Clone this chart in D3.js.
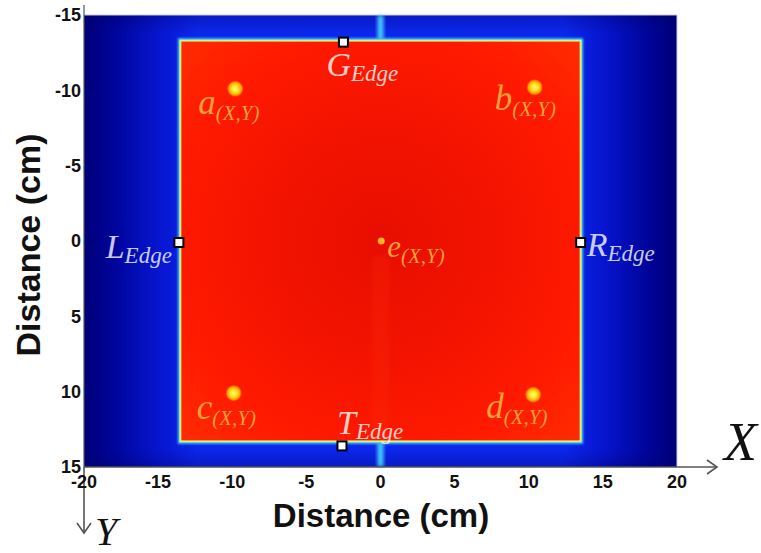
<!DOCTYPE html>
<html><head><meta charset="utf-8">
<script src="https://cdn.jsdelivr.net/npm/d3@7"></script>
<style>html,body{margin:0;padding:0;background:#fff;}svg{display:block;}</style>
</head><body>
<svg id="c" width="761" height="553"></svg>
<script>
const xTicks = [-20,-15,-10,-5,0,5,10,15,20];
const yTicks = [-15,-10,-5,0,5,10,15];
const plateX = [-13.5, 13.5];
const plateY = [-13.3, 13.3];
const sensorNames = ["a","b","c","d","e"];
const sensorX = [-9.8, 10.4, -9.9, 10.3, 0.05];
const sensorY = [-10.1, -10.2, 10.1, 10.2, 0.0];
const edgeNames = ["G","L","R","T"];
const edgeX = [-2.5, -13.6, 13.5, -2.6];
const edgeY = [-13.2, 0.1, 0.1, 13.6];

const svg = d3.select("#c");
const x = d3.scaleLinear().domain([-20,20]).range([84,677]);
const y = d3.scaleLinear().domain([-15,15]).range([15,467]);
const defs = svg.append("defs");

const bg = defs.append("linearGradient").attr("id","bgGrad").attr("x1","0").attr("x2","1").attr("y1","0").attr("y2","0");
[[0,"#000078"],[0.05,"#00049a"],[0.12,"#0614cc"],[0.19,"#0c26ec"],[0.81,"#0c26ec"],[0.88,"#0614cc"],[0.95,"#00049a"],[1,"#000078"]]
  .forEach(s=>bg.append("stop").attr("offset",s[0]).attr("stop-color",s[1]));
const vg = defs.append("linearGradient").attr("id","vGrad").attr("x1","0").attr("x2","0").attr("y1","0").attr("y2","1");
[[0,"#000060",0.3],[0.04,"#000060",0],[0.96,"#000060",0],[1,"#000060",0.3]]
  .forEach(s=>vg.append("stop").attr("offset",s[0]).attr("stop-color",s[1]).attr("stop-opacity",s[2]));
const rg = defs.append("radialGradient").attr("id","redGrad").attr("cx","0.5").attr("cy","0.5").attr("r","0.7");
[[0,"#e80e00"],[0.45,"#f41400"],[0.75,"#ff1a00"],[1,"#ff2c00"]]
  .forEach(s=>rg.append("stop").attr("offset",s[0]).attr("stop-color",s[1]));
const sg = defs.append("radialGradient").attr("id","spotGrad");
[[0,"#ffff70",1],[0.45,"#ffe020",1],[0.8,"#ffa800",0.95],[1,"#ff7000",0.4]]
  .forEach(s=>sg.append("stop").attr("offset",s[0]).attr("stop-color",s[1]).attr("stop-opacity",s[2]));
defs.append("filter").attr("id","blur").attr("x","-50%").attr("y","-50%").attr("width","200%").attr("height","200%")
  .append("feGaussianBlur").attr("stdDeviation",2.2);
defs.append("filter").attr("id","blur1").attr("x","-20%").attr("y","-20%").attr("width","140%").attr("height","140%")
  .append("feGaussianBlur").attr("stdDeviation",1.2);

// background field
svg.append("rect").attr("x",x(-20)).attr("y",y(-15)).attr("width",x(20)-x(-20)).attr("height",y(15)-y(-15)).attr("fill","url(#bgGrad)");
svg.append("rect").attr("x",x(-20)).attr("y",y(-15)).attr("width",x(20)-x(-20)).attr("height",y(15)-y(-15)).attr("fill","url(#vGrad)");
// vertical streak at x=0
svg.append("rect").attr("x",x(0)-2.5).attr("y",y(-15)).attr("width",5).attr("height",y(plateY[0])-y(-15)).attr("fill","#50f0ff").attr("filter","url(#blur)");
svg.append("rect").attr("x",x(0)-2.5).attr("y",y(plateY[1])).attr("width",5).attr("height",y(15)-y(plateY[1])).attr("fill","#50f0ff").attr("filter","url(#blur)");
// plate halo
svg.append("rect").attr("x",x(plateX[0])).attr("y",y(plateY[0])).attr("width",x(plateX[1])-x(plateX[0])).attr("height",y(plateY[1])-y(plateY[0]))
  .attr("fill","none").attr("stroke","#30c8ff").attr("stroke-width",5).attr("filter","url(#blur1)");
svg.append("rect").attr("x",x(plateX[0])).attr("y",y(plateY[0])).attr("width",x(plateX[1])-x(plateX[0])).attr("height",y(plateY[1])-y(plateY[0]))
  .attr("fill","url(#redGrad)").attr("stroke","#d8f080").attr("stroke-width",2);
// faint lighter streak in red
svg.append("rect").attr("x",x(-0.6)).attr("y",y(1)).attr("width",x(0.6)-x(-0.6)).attr("height",y(13)-y(1)).attr("fill","#ff3010").attr("opacity",0.2).attr("filter","url(#blur)");

// frame lines
svg.append("line").attr("x1",x(-20)).attr("x2",x(20)).attr("y1",y(-15)).attr("y2",y(-15)).attr("stroke","#c8c8d8").attr("stroke-width",1);
svg.append("line").attr("x1",x(20)).attr("x2",x(20)).attr("y1",y(-15)).attr("y2",y(15)).attr("stroke","#d0d0e0").attr("stroke-width",1);
svg.append("line").attr("x1",x(-20)).attr("x2",x(-20)).attr("y1",y(-15)-10).attr("y2",y(15)).attr("stroke","#555").attr("stroke-width",1.2);

// sensors
const sens = sensorNames.map((n,i)=>({n, x:sensorX[i], y:sensorY[i]}));
svg.selectAll("circle.s").data(sens).enter().append("circle").attr("class","s")
  .attr("cx",d=>x(d.x)).attr("cy",d=>y(d.y)).attr("r",d=>d.n==="e"?3.5:8)
  .attr("fill",d=>d.n==="e"?"#ffb428":"url(#spotGrad)");
const sOff = {a:[-37,25,35], b:[-40,23,35], c:[-37,26,35], d:[-47,23,35], e:[6,16,31]};
const sl = svg.selectAll("text.s").data(sens).enter().append("text").attr("class","s")
  .attr("x",d=>x(d.x)+sOff[d.n][0]).attr("y",d=>y(d.y)+sOff[d.n][1])
  .attr("font-family","'Liberation Serif', serif").attr("font-style","italic")
  .attr("fill","#f6aa3c").attr("fill-opacity",0.95);
sl.append("tspan").attr("font-size",d=>sOff[d.n][2]).text(d=>d.n);
sl.append("tspan").attr("font-size",21).attr("dy",6).text("(X,Y)");

// edge markers
const edges = edgeNames.map((n,i)=>({n, x:edgeX[i], y:edgeY[i]}));
svg.selectAll("rect.e").data(edges).enter().append("rect").attr("class","e")
  .attr("x",d=>x(d.x)-4.5).attr("y",d=>y(d.y)-4.5).attr("width",9).attr("height",9)
  .attr("fill","#fff").attr("stroke","#000").attr("stroke-width",2);
const eOff = {G:[-17,34,"start"], L:[-7,15,"end"], R:[6,13,"start"], T:[-5,-12,"start"]};
const el = svg.selectAll("text.e").data(edges).enter().append("text").attr("class","e")
  .attr("x",d=>x(d.x)+eOff[d.n][0]).attr("y",d=>y(d.y)+eOff[d.n][1]).attr("text-anchor",d=>eOff[d.n][2])
  .attr("font-family","'Liberation Serif', serif").attr("font-style","italic")
  .attr("fill","#ffffff").attr("fill-opacity",0.8);
el.append("tspan").attr("font-size",34).text(d=>d.n);
el.append("tspan").attr("font-size",23).attr("dy",5).text("Edge");

// axes arrows
const ax = svg.append("g").attr("stroke","#555").attr("stroke-width",1.6).attr("fill","none");
ax.append("line").attr("x1",x(-20)).attr("x2",717).attr("y1",y(15)).attr("y2",y(15));
ax.append("path").attr("d",`M${717-10},${y(15)-7}L717,${y(15)}L${717-10},${y(15)+7}`);
ax.append("line").attr("x1",x(-20)).attr("x2",x(-20)).attr("y1",y(15)).attr("y2",533);
ax.append("path").attr("d",`M${x(-20)-7},${533-10}L${x(-20)},533L${x(-20)+7},${533-10}`);

// tick labels
svg.append("g").selectAll("text").data(yTicks).enter().append("text")
  .attr("x",81).attr("y",d=>y(d)).attr("dy","0.36em").attr("text-anchor","end")
  .attr("font-family","'Liberation Sans', Arial, sans-serif").attr("font-weight","bold").attr("font-size",18).attr("fill","#111")
  .text(d=>d);
svg.append("g").selectAll("text").data(xTicks).enter().append("text")
  .attr("x",d=>x(d)).attr("y",488).attr("text-anchor","middle")
  .attr("font-family","'Liberation Sans', Arial, sans-serif").attr("font-weight","bold").attr("font-size",18).attr("fill","#111")
  .text(d=>d);

// titles
svg.append("text").attr("x",381).attr("y",527).attr("text-anchor","middle")
  .attr("font-family","'Liberation Sans', Arial, sans-serif").attr("font-weight","bold").attr("font-size",33).attr("fill","#111")
  .text("Distance (cm)");
svg.append("text").attr("transform","translate(40,245) rotate(-90)").attr("text-anchor","middle")
  .attr("font-family","'Liberation Sans', Arial, sans-serif").attr("font-weight","bold").attr("font-size",34).attr("fill","#111")
  .text("Distance (cm)");
svg.append("text").attr("x",724).attr("y",460).attr("font-family","'Liberation Serif', serif").attr("font-style","italic").attr("font-size",54).attr("fill","#111").text("X");
svg.append("text").attr("x",95).attr("y",545).attr("font-family","'Liberation Serif', serif").attr("font-style","italic").attr("font-size",40).attr("fill","#111").text("Y");
</script>
</body></html>
